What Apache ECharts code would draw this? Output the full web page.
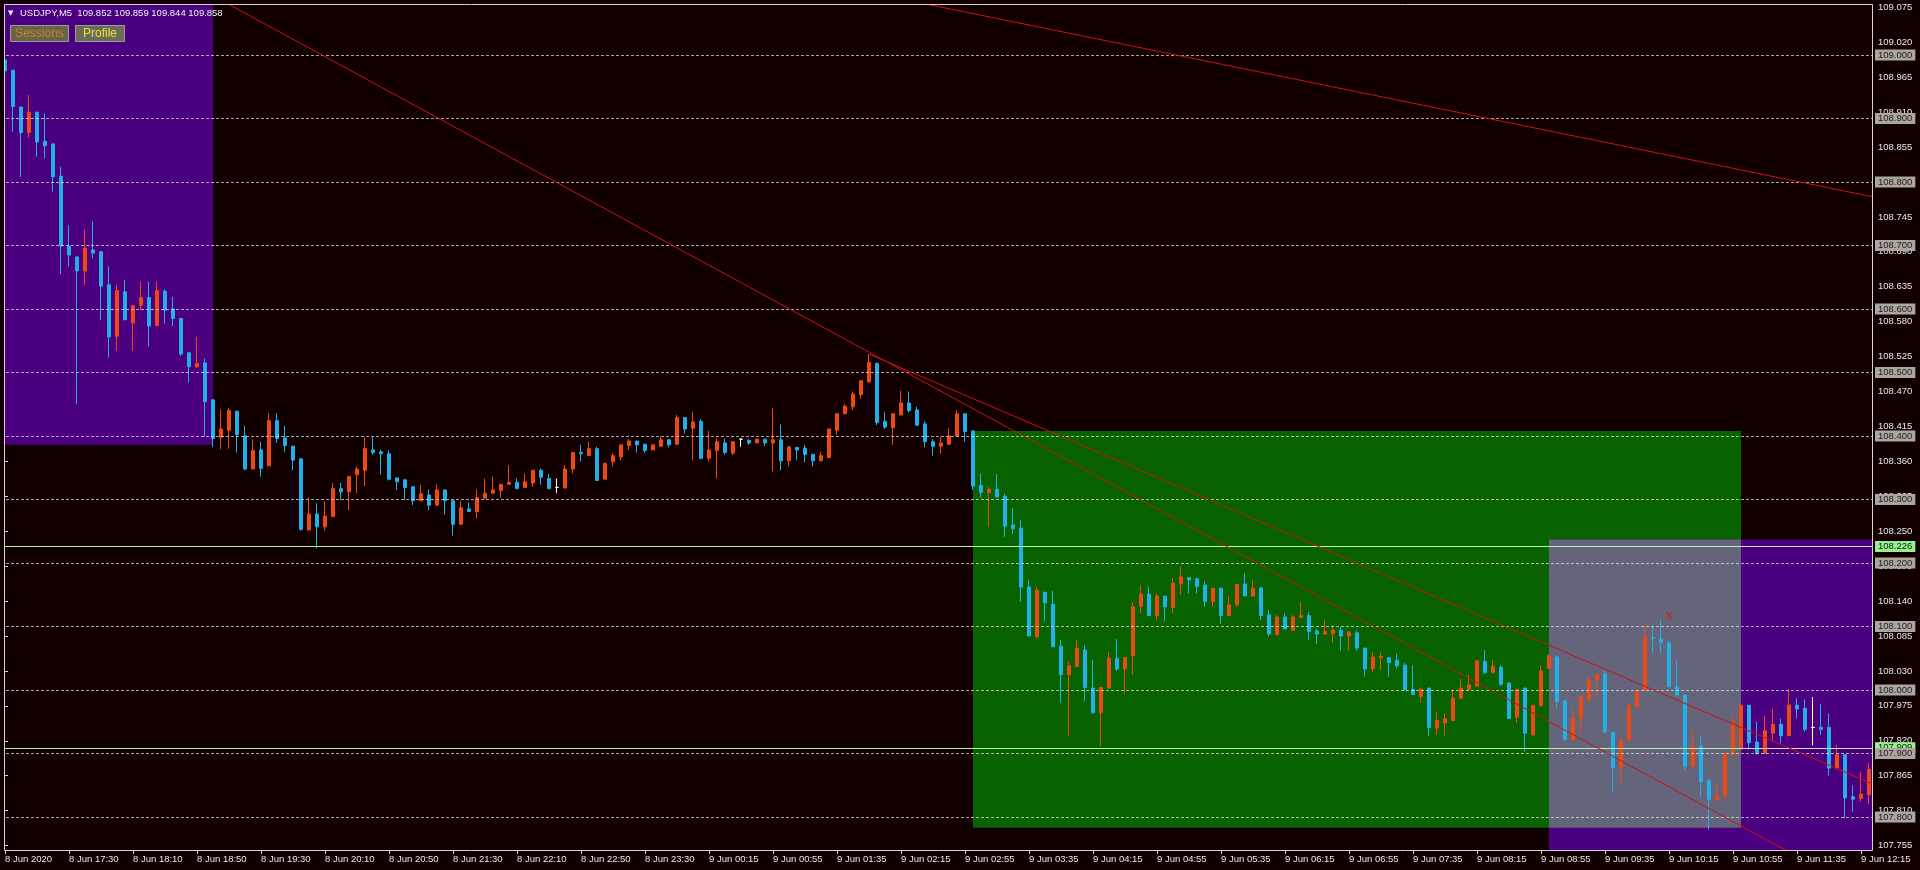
<!DOCTYPE html>
<html><head><meta charset="utf-8">
<script src="https://cdn.jsdelivr.net/npm/echarts@6/dist/echarts.min.js"></script>
<style>html,body{margin:0;padding:0;background:#120000;overflow:hidden}#c{width:1920px;height:870px}</style>
</head><body><div id="c"></div>
<script>
// ---- data (USDJPY M5) ----
const tickLabels = ['8 Jun 2020','8 Jun 17:30','8 Jun 18:10','8 Jun 18:50','8 Jun 19:30','8 Jun 20:10','8 Jun 20:50','8 Jun 21:30','8 Jun 22:10','8 Jun 22:50','8 Jun 23:30','9 Jun 00:15','9 Jun 00:55','9 Jun 01:35','9 Jun 02:15','9 Jun 02:55','9 Jun 03:35','9 Jun 04:15','9 Jun 04:55','9 Jun 05:35','9 Jun 06:15','9 Jun 06:55','9 Jun 07:35','9 Jun 08:15','9 Jun 08:55','9 Jun 09:35','9 Jun 10:15','9 Jun 10:55','9 Jun 11:35','9 Jun 12:15'];
const priceTicks = [107.755,107.810,107.865,107.920,107.975,108.030,108.085,108.140,108.195,108.250,108.305,108.360,108.415,108.470,108.525,108.580,108.635,108.690,108.745,108.800,108.855,108.910,108.965,109.020,109.075];
const levelLines = [109.0,108.9,108.8,108.7,108.6,108.5,108.4,108.3,108.2,108.1,108.0,107.9,107.8];
const greenLines = [108.226,107.909];
const opens = [108.992,108.976,108.918,108.878,108.910,108.864,108.860,108.809,108.699,108.682,108.660,108.693,108.690,108.638,108.557,108.627,108.578,108.606,108.618,108.574,108.628,108.600,108.585,108.531,108.509,108.515,108.457,108.398,108.409,108.439,108.400,108.348,108.378,108.353,108.424,108.397,108.384,108.364,108.252,108.277,108.257,108.273,108.317,108.312,108.339,108.346,108.378,108.375,108.372,108.334,108.331,108.320,108.298,108.307,108.291,108.315,108.298,108.261,108.285,108.281,108.302,108.310,108.314,108.324,108.327,108.319,108.326,108.346,108.333,108.319,108.318,108.348,108.374,108.369,108.380,108.332,108.360,108.367,108.385,108.392,108.387,108.378,108.384,108.394,108.387,108.429,108.412,108.423,108.365,108.377,108.389,108.373,108.395,108.393,108.389,108.395,108.389,108.394,108.361,108.382,108.381,108.371,108.361,108.366,108.409,108.435,108.446,108.465,108.485,108.514,108.423,108.413,108.433,108.452,108.441,108.419,108.391,108.384,108.387,108.400,108.435,108.408,108.322,108.311,108.316,108.305,108.260,108.255,108.162,108.084,108.154,108.135,108.069,108.024,108.037,108.063,108.003,107.964,108.003,108.050,108.033,108.054,108.132,108.151,108.117,108.148,108.130,108.167,108.177,108.175,108.165,108.139,108.160,108.117,108.134,108.167,108.148,108.161,108.118,108.087,108.115,108.094,108.114,108.117,108.093,108.088,108.089,108.094,108.085,108.090,108.066,108.033,108.051,108.051,108.047,108.039,108.001,107.990,108.003,107.940,107.948,107.952,107.987,108.001,108.006,108.045,108.027,108.036,108.011,107.957,108.003,107.929,107.975,108.034,108.052,107.983,107.922,107.955,107.984,108.016,108.025,107.933,107.878,107.921,107.974,107.999,108.083,108.080,108.074,108.005,107.992,107.880,107.911,107.858,107.827,107.833,107.898,107.907,107.976,107.918,107.900,107.932,107.946,107.928,107.976,107.971,107.941,107.941,107.941,107.877,107.898,107.832,107.829,107.835];
const closes = [108.975,108.919,108.878,108.910,108.863,108.857,108.808,108.699,108.685,108.660,108.696,108.688,108.636,108.556,108.629,108.583,108.605,108.618,108.573,108.629,108.598,108.585,108.529,108.509,108.514,108.454,108.396,108.411,108.440,108.402,108.348,108.377,108.349,108.424,108.396,108.385,108.362,108.253,108.277,108.257,108.274,108.317,108.312,108.336,108.348,108.380,108.374,108.372,108.332,108.328,108.319,108.298,108.309,108.291,108.315,108.298,108.261,108.287,108.281,108.303,108.310,108.315,108.324,108.327,108.317,108.328,108.346,108.335,108.317,108.319,108.348,108.374,108.372,108.380,108.330,108.357,108.369,108.386,108.392,108.386,108.377,108.386,108.394,108.386,108.429,108.411,108.422,108.365,108.378,108.391,108.374,108.391,108.395,108.389,108.395,108.389,108.394,108.361,108.383,108.378,108.371,108.361,108.369,108.411,108.435,108.447,108.466,108.487,108.516,108.421,108.414,108.435,108.452,108.440,108.417,108.391,108.384,108.389,108.400,108.435,108.407,108.321,108.311,108.316,108.304,108.258,108.254,108.162,108.085,108.157,108.137,108.068,108.024,108.038,108.066,108.004,107.964,108.004,108.050,108.033,108.051,108.131,108.151,108.117,108.148,108.131,108.168,108.178,108.173,108.163,108.139,108.160,108.117,108.134,108.166,108.148,108.160,108.117,108.088,108.115,108.096,108.115,108.117,108.092,108.088,108.092,108.094,108.085,108.091,108.066,108.033,108.052,108.053,108.043,108.038,108.000,107.993,108.001,107.941,107.952,107.955,107.987,108.003,108.008,108.046,108.027,108.037,108.009,107.955,108.001,107.932,107.976,108.030,108.054,107.982,107.922,107.955,107.990,108.016,108.025,107.934,107.878,107.921,107.976,107.999,108.083,108.081,108.075,108.005,107.992,107.880,107.911,107.856,107.828,107.833,107.900,107.948,107.976,107.917,107.900,107.936,107.946,107.928,107.976,107.970,107.938,107.941,107.938,107.877,107.898,107.830,107.828,107.836,107.875];
const lows = [108.940,108.879,108.808,108.870,108.840,108.837,108.785,108.655,108.667,108.450,108.638,108.680,108.583,108.524,108.534,108.583,108.534,108.598,108.541,108.574,108.577,108.573,108.526,108.484,108.507,108.399,108.383,108.379,108.380,108.374,108.346,108.347,108.336,108.353,108.389,108.375,108.346,108.251,108.251,108.223,108.251,108.273,108.299,108.283,108.310,108.321,108.370,108.339,108.330,108.315,108.299,108.291,108.298,108.283,108.291,108.276,108.243,108.261,108.281,108.270,108.302,108.310,108.303,108.324,108.317,108.319,108.320,108.323,108.317,108.310,108.318,108.341,108.360,108.369,108.330,108.332,108.352,108.362,108.378,108.374,108.373,108.378,108.384,108.382,108.387,108.404,108.362,108.363,108.360,108.333,108.370,108.370,108.383,108.386,108.389,108.384,108.344,108.346,108.352,108.362,108.358,108.352,108.361,108.365,108.402,108.435,108.441,108.459,108.485,108.417,108.411,108.386,108.433,108.437,108.417,108.382,108.369,108.372,108.387,108.400,108.391,108.315,108.303,108.257,108.304,108.241,108.246,108.139,108.085,108.081,108.108,108.068,107.980,107.928,108.037,107.982,107.963,107.911,108.003,108.030,107.994,108.024,108.121,108.117,108.110,108.108,108.121,108.150,108.152,108.152,108.131,108.131,108.104,108.117,108.131,108.148,108.148,108.110,108.084,108.087,108.096,108.094,108.114,108.079,108.072,108.088,108.074,108.062,108.062,108.062,108.021,108.029,108.031,108.021,108.034,108.000,107.992,107.980,107.928,107.929,107.928,107.952,107.987,108.001,108.006,108.026,108.027,108.006,107.955,107.948,107.903,107.929,107.975,108.034,107.971,107.920,107.922,107.932,107.984,107.990,107.932,107.838,107.853,107.921,107.974,107.999,108.058,108.058,108.005,107.990,107.873,107.880,107.832,107.780,107.824,107.833,107.898,107.907,107.906,107.898,107.900,107.919,107.916,107.928,107.955,107.934,107.913,107.929,107.865,107.877,107.798,107.808,107.824,107.820];
const highs = [109.016,108.976,108.918,108.937,108.910,108.908,108.860,108.824,108.732,108.682,108.725,108.738,108.690,108.667,108.638,108.646,108.605,108.643,108.643,108.643,108.631,108.619,108.585,108.531,108.556,108.522,108.457,108.442,108.444,108.439,108.416,108.394,108.391,108.436,108.436,108.416,108.384,108.364,108.303,108.294,108.297,108.326,108.326,108.336,108.352,108.398,108.398,108.378,108.378,108.334,108.331,108.320,108.323,108.316,108.324,108.315,108.298,108.298,108.295,108.316,108.333,108.336,108.324,108.354,108.333,108.341,108.346,108.349,108.340,108.333,108.354,108.374,108.386,108.391,108.383,108.357,108.373,108.386,108.395,108.392,108.387,108.386,108.399,108.394,108.433,108.429,108.438,108.427,108.408,108.396,108.396,108.391,108.396,108.395,108.395,108.395,108.444,108.418,108.383,108.382,108.386,108.371,108.375,108.411,108.435,108.450,108.470,108.487,108.529,108.516,108.438,108.435,108.471,108.470,108.446,108.423,108.395,108.399,108.412,108.441,108.435,108.408,108.341,108.320,108.340,108.309,108.286,108.268,108.174,108.162,108.154,108.156,108.079,108.045,108.079,108.071,108.047,108.004,108.060,108.080,108.051,108.138,108.165,108.163,108.152,108.148,108.176,108.195,108.177,108.177,108.171,108.160,108.162,108.148,108.166,108.184,108.173,108.161,108.126,108.118,108.121,108.118,108.139,108.123,108.096,108.111,108.101,108.100,108.093,108.093,108.066,108.060,108.059,108.051,108.057,108.043,108.039,108.003,108.003,107.966,107.963,108.000,108.017,108.024,108.046,108.063,108.047,108.039,108.011,108.003,108.003,107.976,108.039,108.056,108.054,107.983,107.971,107.990,108.021,108.025,108.031,107.933,107.921,107.976,107.999,108.101,108.100,108.111,108.078,108.047,107.992,107.934,107.927,107.858,107.854,107.900,107.963,107.976,107.976,107.950,107.959,107.970,107.955,108.001,107.987,107.985,107.989,107.978,107.963,107.913,107.898,107.850,107.870,107.885];
// zones: session / range rectangles (bar index, price)
const zoneStartBar = [-0.5, 121, 193, 193];
const zoneEndBar   = [26, 217, 233.5, 217];
const zoneLow      = [108.386, 107.783, 107.748, 107.783];
const zoneHigh     = [109.0787, 108.408, 108.237, 108.237];
// trend lines: [bar, price] endpoints
const trendA = [[27.5, 109.083], [233.5, 107.673]];
const trendB = [[108, 108.529], [233.5, 107.852]];
const trendC = [[115, 109.0805], [233.5, 108.7766]];
const crossMark = [[208, 108.117]];
const titleText = 'USDJPY,M5  109.852 109.859 109.844 109.858';

// 5-minute bar times (the 9 Jun 00:00 bar is absent in the feed)
const categories = [];
(function () {
  let t = Date.UTC(2020, 5, 8, 16, 50);
  const p = n => String(n).padStart(2, '0');
  while (categories.length < opens.length) {
    const d = new Date(t);
    if (!(d.getUTCDate() === 9 && d.getUTCHours() === 0 && d.getUTCMinutes() === 0)) {
      categories.push('2020.06.' + p(d.getUTCDate()) + ' ' + p(d.getUTCHours()) + ':' + p(d.getUTCMinutes()));
    }
    t += 300000;
  }
})();

const FONT = '"Liberation Sans", Arial, sans-serif';
const Y_MIN = 107.748, Y_MAX = 109.0787;
const zoneFills = ['#4b0082', '#086200', '#4b0082', '#64647a'];
const candleData = opens.map((o, i) => [o, closes[i], lows[i], highs[i]]);
const zoneData = zoneStartBar.map((s, i) => [s, zoneLow[i], zoneEndBar[i], zoneHigh[i]]);

const chart = echarts.init(document.getElementById('c'), null, { renderer: 'canvas' });
const trendStyle = { color: '#c81414', width: 1 };
const option = {
  backgroundColor: '#120000',
  animation: false,
  grid: { left: 1, right: 47, top: 5, bottom: 20 },
  xAxis: [
    {
      type: 'category', data: categories, boundaryGap: true, position: 'bottom',
      axisLine: { show: false },
      axisTick: { show: true, interval: 7, alignWithLabel: true, length: 4, lineStyle: { color: '#d8d8d8' } },
      axisLabel: { interval: 7, align: 'left', margin: 4, color: '#e8e8e8', fontFamily: FONT, fontSize: 9.5,
        formatter: (v, i) => (i % 8 === 0 && tickLabels[i / 8]) ? tickLabels[i / 8] : '' },
      splitLine: { show: false }
    },
    { type: 'value', min: -0.5, max: 233.5, show: false, position: 'top' }
  ],
  yAxis: {
    type: 'value', position: 'right', min: Y_MIN, max: Y_MAX,
    axisLine: { show: false }, splitLine: { show: false },
    axisTick: { show: true, customValues: priceTicks, length: 3, lineStyle: { color: '#d8d8d8' } },
    axisLabel: { customValues: priceTicks, formatter: v => v.toFixed(3), color: '#e8e8e8', fontFamily: FONT, fontSize: 9.5, margin: 5 }
  },
  series: [
    {
      type: 'custom', xAxisIndex: 1, yAxisIndex: 0, z: 1, clip: true, silent: true,
      encode: { x: [0, 2], y: [1, 3] },
      data: zoneData,
      renderItem: (params, api) => {
        const a = api.coord([api.value(0), api.value(3)]);
        const b = api.coord([api.value(2), api.value(1)]);
        return { type: 'rect', shape: { x: a[0], y: a[1], width: b[0] - a[0], height: b[1] - a[1] },
          style: { fill: zoneFills[params.dataIndex] } };
      }
    },
    {
      type: 'line', xAxisIndex: 1, yAxisIndex: 0, z: 2, data: [], silent: true,
      markLine: {
        symbol: ['none', 'none'], silent: true, animation: false, precision: 3,
        lineStyle: { type: 'solid', color: '#b8f2a6', width: 1 },
        label: { position: 'end', distance: 2, formatter: '{b}', backgroundColor: '#98ee90',
          color: '#0c200c', padding: [1, 3, 0, 3], fontFamily: FONT, fontSize: 9.5, lineHeight: 10 },
        data: greenLines.map(v => ({ yAxis: v, name: v.toFixed(3) }))
      }
    },
    {
      type: 'line', xAxisIndex: 1, yAxisIndex: 0, z: 3, data: [], silent: true,
      markLine: {
        symbol: ['none', 'none'], silent: true, animation: false, precision: 3,
        lineStyle: { type: [3, 2], color: 'rgba(228,228,228,0.72)', width: 1 },
        label: { position: 'end', distance: 2, formatter: '{b}', backgroundColor: '#aca69e',
          color: '#1c1c1c', padding: [1, 3, 0, 3], fontFamily: FONT, fontSize: 9.5, lineHeight: 10 },
        data: levelLines.map(v => ({ yAxis: v, name: v.toFixed(3) }))
      }
    },
    {
      type: 'candlestick', xAxisIndex: 0, yAxisIndex: 0, z: 4, barWidth: 4, data: candleData,
      itemStyle: { color: '#ec4a12', color0: '#22b0ea', borderColor: '#ec4a12', borderColor0: '#22b0ea',
        borderColorDoji: '#ffffff', borderWidth: 1 }
    },
    { type: 'line', xAxisIndex: 1, yAxisIndex: 0, z: 5, data: trendA, symbol: 'none', clip: true, lineStyle: trendStyle, silent: true },
    { type: 'line', xAxisIndex: 1, yAxisIndex: 0, z: 5, data: trendB, symbol: 'none', clip: true, lineStyle: trendStyle, silent: true },
    { type: 'line', xAxisIndex: 1, yAxisIndex: 0, z: 5, data: trendC, symbol: 'none', clip: true, lineStyle: trendStyle, silent: true },
    {
      type: 'scatter', xAxisIndex: 1, yAxisIndex: 0, z: 6, data: crossMark, silent: true,
      symbol: 'path://M0,0 L2,0 L5,3 L8,0 L10,0 L6,4 L10,8 L8,8 L5,5 L2,8 L0,8 L4,4 Z', symbolSize: [8, 7],
      itemStyle: { color: '#d81c1c' }
    }
  ],
  graphic: [
    { type: 'rect', z: 100, silent: true, shape: { x: 0, y: 0, width: 4, height: 870 }, style: { fill: '#120000' } },
    { type: 'rect', z: 100, silent: true, shape: { x: 4.5, y: 4.5, width: 1868, height: 846 }, style: { fill: 'none', stroke: '#d4d4d4', lineWidth: 1 } },
    { type: 'text', z: 101, x: 8, y: 13, style: { text: '▼', fill: '#f0f0f0', font: '7px "DejaVu Sans"', textVerticalAlign: 'middle', verticalAlign: 'middle' } },
    { type: 'text', z: 101, x: 20, y: 13, style: { text: titleText, fill: '#f0f0f0', font: '9.5px ' + FONT, textVerticalAlign: 'middle', verticalAlign: 'middle' } },
    { type: 'rect', z: 101, shape: { x: 10.5, y: 25.5, width: 58, height: 16 }, style: { fill: '#6a6348', stroke: '#9c9c9c', lineWidth: 1 } },
    { type: 'text', z: 102, x: 39.5, y: 34, style: { text: 'Sessions', fill: '#b28e2c', font: '12px ' + FONT, textAlign: 'center', align: 'center', textVerticalAlign: 'middle', verticalAlign: 'middle' } },
    { type: 'rect', z: 101, shape: { x: 75.5, y: 25.5, width: 49, height: 16 }, style: { fill: '#6c6a58', stroke: '#9c9c9c', lineWidth: 1 } },
    { type: 'text', z: 102, x: 100, y: 34, style: { text: 'Profile', fill: '#e8e23c', font: '12px ' + FONT, textAlign: 'center', align: 'center', textVerticalAlign: 'middle', verticalAlign: 'middle' } }
  ]
};
chart.setOption(option);
</script>
</body></html>
